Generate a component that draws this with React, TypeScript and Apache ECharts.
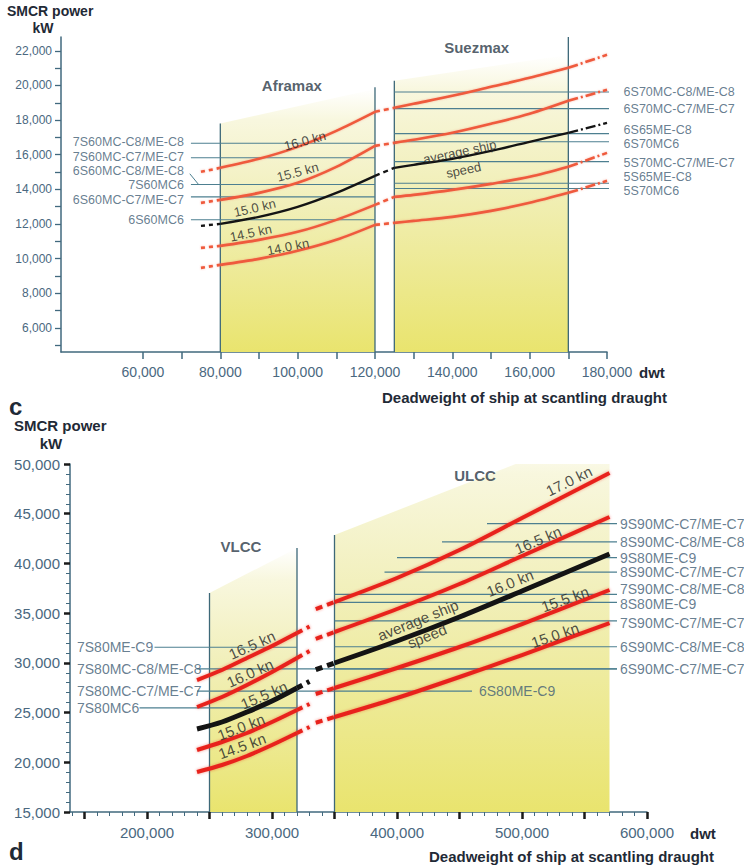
import React, { useEffect, useRef } from 'react';
import * as echarts from 'echarts';

const FONT = '"Liberation Sans", Arial, Helvetica, sans-serif';

// ================= Panel c : Aframax / Suezmax =================
const C_X_TICKS = [60000, 70000, 80000, 90000, 100000, 110000, 120000, 130000, 140000, 150000, 160000, 170000, 180000];
const C_X_LABELS = [60000, 80000, 100000, 120000, 140000, 160000, 180000];
const C_Y_TICKS = [5000, 6000, 7000, 8000, 9000, 10000, 11000, 12000, 13000, 14000, 15000, 16000, 17000, 18000, 19000, 20000, 21000, 22000];
const C_Y_LABELS = [6000, 8000, 10000, 12000, 14000, 16000, 18000, 20000, 22000];

const C_AFRAMAX_DWT = [75000, 80000, 90000, 100000, 110000, 120000];
const C_SUEZMAX_DWT = [125000, 130000, 140000, 150000, 160000, 170000, 180000];

const C_AFRA_160 = [15009, 15240, 15760, 16453, 17378, 18476];
const C_AFRA_155 = [13218, 13391, 13795, 14373, 15298, 16511];
const C_AFRA_150 = [11889, 12004, 12409, 12987, 13795, 14778];
const C_AFRA_145 = [10617, 10733, 11080, 11542, 12235, 13102];
const C_AFRA_140 = [9462, 9635, 9982, 10444, 11080, 11946];

const C_SUEZ_160 = [18707, 18938, 19400, 19920, 20440, 21018, 21769];
const C_SUEZ_155 = [16684, 16858, 17262, 17782, 18360, 19111, 19747];
const C_SUEZ_AVG = [15240, 15413, 15760, 16222, 16742, 17262, 17840];
const C_SUEZ_145 = [13564, 13680, 13969, 14315, 14720, 15298, 16106];
const C_SUEZ_140 = [12062, 12177, 12409, 12755, 13218, 13795, 14489];

const C_LEFT_ENGINES = ['7S60MC-C8/ME-C8', '7S60MC-C7/ME-C7', '7S60MC6', '6S60MC-C7/ME-C7', '6S60MC6'];
const C_LEFT_POWER = [16660, 15820, 14280, 13560, 12240];
const C_LEADER_ENGINE = '6S60MC-C8/ME-C8';
const C_RIGHT_ENGINES = ['6S70MC-C8/ME-C8', '6S70MC-C7/ME-C7', '6S65ME-C8', '6S70MC6', '5S70MC-C7/ME-C7', '5S65ME-C8', '5S70MC6'];
const C_RIGHT_POWER = [19620, 18660, 17220, 16750, 15600, 14350, 14050];

// ================= Panel d : VLCC / ULCC =================
const D_X_MAJOR = [150000, 200000, 250000, 300000, 350000, 400000, 450000, 500000, 550000, 600000];
const D_X_MINOR = [140000, 160000, 170000, 180000, 190000, 210000, 220000, 230000, 240000, 260000, 270000, 280000, 290000, 310000, 320000, 330000, 340000, 360000, 370000, 380000, 390000, 410000, 420000, 430000, 440000, 460000, 470000, 480000, 490000, 510000, 520000, 530000, 540000, 560000, 570000, 580000, 590000];
const D_X_LABELS = [200000, 300000, 400000, 500000, 600000];

const D_VLCC_DWT = [240000, 260000, 280000, 300000, 320000];
const D_ULCC_DWT = [350000, 400000, 450000, 500000, 570000];

const D_VLCC_165 = [28275, 29281, 30488, 31695, 33002];
const D_VLCC_160 = [25560, 26566, 27772, 29080, 30488];
const D_VLCC_AVG = [23347, 24051, 25057, 26163, 27471];
const D_VLCC_150 = [21235, 22040, 22945, 24051, 25258];
const D_VLCC_145 = [19023, 19727, 20632, 21738, 22945];

const D_ULCC_170 = [36120, 38533, 41349, 44568, 49093];
const D_ULCC_165 = [33103, 35416, 37930, 40746, 44668];
const D_ULCC_AVG = [29985, 32197, 34611, 37226, 40947];
const D_ULCC_155 = [27471, 29482, 31594, 33907, 37327];
const D_ULCC_150 = [24554, 26465, 28577, 30789, 34008];

const D_VLCC_EXT_DWT = 330000;
const D_VLCC_EXT = [33660, 31190, 28130, 25860, 23550];
const D_ULCC_LEAD_DWT = 335000;
const D_ULCC_LEAD = [35400, 32410, 29320, 26870, 23980];

const D_LEFT_ENGINES = ['7S80ME-C9', '7S80MC-C8/ME-C8', '7S80MC-C7/ME-C7', '7S80MC6'];
const D_LEFT_POWER = [31570, 29400, 27160, 25480];
const D_LEFT_START = [206000, 240000, 240000, 194000];
const D_LEFT_END = [320000, 576000, 460000, 320000];
const D_RIGHT_ENGINES = ['9S90MC-C7/ME-C7', '8S90MC-C8/ME-C8', '9S80ME-C9', '8S90MC-C7/ME-C7', '7S90MC-C8/ME-C8', '8S80ME-C9', '7S90MC-C7/ME-C7', '6S90MC-C8/ME-C8', '6S90MC-C7/ME-C7'];
const D_RIGHT_POWER = [44010, 42160, 40590, 39120, 36890, 36080, 34230, 31620, 29400];
const D_RIGHT_START = [472000, 436000, 400000, 390000, 350000, 350000, 350000, 350000, 350000];
const D_INNER_ENGINE = '6S80ME-C9';

// colours
const RED_C = '#ef5a3c';
const RED_D = '#e8231d';
const BLACK = '#141414';
const ENGINE_LINE = '#4d7f90';
const BOUND = '#3d6878';
const AXIS = '#41697e';
const TICK_TEXT = '#4a6880';
const ENGINE_TEXT = '#3f5d74';
const TITLE = '#1f2a36';
const SPEED_TEXT = '#242424';

const fmt = (v: number) => Number(v).toLocaleString('en-US');
const zip = (xs: number[], ys: number[]) => xs.map((x, i) => [x, ys[i]]);

// small vertical nudges so that tightly packed engine labels do not collide
const LABEL_OFFSETS: Record<string, number[]> = {
  '7S60MC-C8/ME-C8': [0, -1],
  '7S60MC-C7/ME-C7': [0, -1],
  '6S60MC-C8/ME-C8': [0, -1],
  '7S60MC6': [0, 1],
  '6S60MC-C7/ME-C7': [0, 3],
  '6S65ME-C8': [0, -4],
  '6S70MC6': [0, 2],
  '5S70MC-C7/ME-C7': [0, 1],
  '5S70MC6': [0, 3],
  '7S90MC-C8/ME-C8': [0, -5],
  '8S80ME-C9': [0, 2],
  '7S90MC-C7/ME-C7': [0, 2],
};

function buildOption() {
  const series: any[] = [];
  const axes = (g: number) => ({ xAxisIndex: g === 0 ? 0 : 1, yAxisIndex: g });
  const line = (g: number, data: number[][], color: string, width: number, type: any = 'solid', z = 5, smooth: any = 0.3, extra: any = {}) =>
    series.push({
      type: 'line', ...axes(g), data, symbol: 'none', showSymbol: false, smooth, clip: false, silent: true, z,
      lineStyle: { color, width, type, cap: 'butt', join: 'round', ...extra },
    });
  const gradient = () =>
    new echarts.graphic.LinearGradient(0, 0, 0, 1, [
      { offset: 0, color: '#ffffff' },
      { offset: 0.12, color: '#f8f7de' },
      { offset: 0.45, color: '#f1efb8' },
      { offset: 1, color: '#e9e46e' },
    ]);
  const bands = (g: number, list: number[][], base: number) =>
    series.push({
      type: 'custom', ...axes(g), clip: true, silent: true, z: 1,
      data: list.map((b) => [b[0], b[1], b[2], b[3], base]),
      encode: { x: [0, 1], y: [2, 3, 4] },
      renderItem: (_p: any, api: any) => {
        const x0 = api.value(0), x1 = api.value(1), t0 = api.value(2), t1 = api.value(3), b = api.value(4);
        const pts = [api.coord([x0, b]), api.coord([x0, t0]), api.coord([x1, t1]), api.coord([x1, b])];
        return { type: 'polygon', shape: { points: pts }, style: { fill: gradient(), stroke: 'none' } };
      },
    });
  const texts = (g: number, items: any[]) =>
    series.push({
      type: 'scatter', ...axes(g), symbolSize: 0, clip: false, silent: true, z: 20,
      itemStyle: { color: 'rgba(0,0,0,0)' },
      label: { show: true, formatter: '{b}', fontFamily: FONT },
      data: items.map((it) => ({ name: it.text, value: it.at, label: { show: true, formatter: '{b}', fontFamily: FONT, ...it.label } })),
    });

  // ---------- panel c ----------
  bands(0, [[80000, 120000, 17800, 19800], [125000, 170000, 20270, 21770]], 4600);
  [[80000, 17800], [120000, 19900], [125000, 20270], [170000, 22800]].forEach(([x, t]) =>
    line(0, [[x, 4600], [x, t]], BOUND, 1.3, 'solid', 2, false));

  C_LEFT_ENGINES.forEach((_n, i) => line(0, [[72400, C_LEFT_POWER[i]], [120000, C_LEFT_POWER[i]]], ENGINE_LINE, 1.1, 'solid', 3, false));
  line(0, [[72100, 14900], [74300, 14300]], ENGINE_LINE, 1, 'solid', 3, false);
  C_RIGHT_ENGINES.forEach((n, i) => {
    const p = C_RIGHT_POWER[i];
    if (n === '5S65ME-C8') line(0, [[125000, p], [180700, p], [183000, 14720]], ENGINE_LINE, 1.1, 'solid', 3, false);
    else line(0, [[125000, p], [183000, p]], ENGINE_LINE, 1.1, 'solid', 3, false);
  });

  const cGlow = { shadowColor: 'rgba(240,110,90,0.45)', shadowBlur: 2 };
  const cCurves: [number[], number[], string, number][] = [
    [C_AFRA_160, C_SUEZ_160, RED_C, 2.6],
    [C_AFRA_155, C_SUEZ_155, RED_C, 2.6],
    [C_AFRA_150, C_SUEZ_AVG, BLACK, 2.4],
    [C_AFRA_145, C_SUEZ_145, RED_C, 2.6],
    [C_AFRA_140, C_SUEZ_140, RED_C, 2.6],
  ];
  cCurves.forEach(([a, s, col, w]) => {
    const ap = zip(C_AFRAMAX_DWT, a);
    const sp = zip(C_SUEZMAX_DWT, s);
    const ex = col === RED_C ? cGlow : {};
    line(0, ap.slice(0, 2), col, w, [4, 4], 5, false, ex);
    line(0, ap.slice(1), col, w, 'solid', 5, 0.3, ex);
    line(0, [ap[ap.length - 1], sp[0]], col, w, [5, 4], 5, false, ex);
    line(0, sp.slice(0, 6), col, w, 'solid', 5, 0.3, ex);
    line(0, sp.slice(5), col, w, [10, 3, 2, 3], 5, false, ex);
  });

  const cEng = { fontSize: 12.5, color: ENGINE_TEXT };
  texts(0, [
    ...C_LEFT_ENGINES.map((n, i) => ({ text: n, at: [72400, C_LEFT_POWER[i]], label: { ...cEng, position: 'left', distance: 7, offset: LABEL_OFFSETS[n] || [0, 0] } })),
    { text: C_LEADER_ENGINE, at: [72400, 15009], label: { ...cEng, position: 'left', distance: 7, offset: LABEL_OFFSETS[C_LEADER_ENGINE] } },
    ...C_RIGHT_ENGINES.map((n, i) => {
      const y = n === '5S65ME-C8' ? 14720 : C_RIGHT_POWER[i];
      return { text: n, at: [183000, y], label: { ...cEng, position: 'right', distance: 5, offset: LABEL_OFFSETS[n] || [0, 0] } };
    }),
  ]);
  const cSpd = { fontSize: 13, color: SPEED_TEXT, position: 'inside' };
  texts(0, [
    { text: '16.0 kn', at: [101900, 16800], label: { ...cSpd, rotate: 15 } },
    { text: '15.5 kn', at: [100000, 15000], label: { ...cSpd, rotate: 15 } },
    { text: '15.0 kn', at: [88900, 12930], label: { ...cSpd, rotate: 13 } },
    { text: '14.5 kn', at: [87900, 11480], label: { ...cSpd, rotate: 12 } },
    { text: '14.0 kn', at: [97500, 10680], label: { ...cSpd, rotate: 11 } },
    { text: 'average ship', at: [141900, 16160], label: { ...cSpd, rotate: 12 } },
    { text: 'speed', at: [142900, 15120], label: { ...cSpd, rotate: 12 } },
    { text: 'Aframax', at: [98500, 19980], label: { fontSize: 15, fontWeight: 'bold', color: '#2a3846', position: 'inside' } },
    { text: 'Suezmax', at: [146300, 22200], label: { fontSize: 15, fontWeight: 'bold', color: '#2a3846', position: 'inside' } },
  ]);

  // ---------- panel d ----------
  bands(1, [[250000, 320000, 37025, 41550], [350000, 570000, 42858, 53700]], 15000);
  [[250000, 37025], [320000, 41550], [350000, 42858]].forEach(([x, t]) =>
    line(1, [[x, 15000], [x, t]], BOUND, 1.3, 'solid', 2, false));

  D_LEFT_ENGINES.forEach((_n, i) => line(1, [[D_LEFT_START[i], D_LEFT_POWER[i]], [D_LEFT_END[i], D_LEFT_POWER[i]]], ENGINE_LINE, 1.2, 'solid', 3, false));
  D_RIGHT_ENGINES.forEach((_n, i) => line(1, [[D_RIGHT_START[i], D_RIGHT_POWER[i]], [576000, D_RIGHT_POWER[i]]], ENGINE_LINE, 1.2, 'solid', 3, false));

  const glow = { shadowColor: 'rgba(235,40,30,0.45)', shadowBlur: 3 };
  const vl: [number[], string, number][] = [
    [D_VLCC_165, RED_D, 4], [D_VLCC_160, RED_D, 4], [D_VLCC_AVG, BLACK, 5], [D_VLCC_150, RED_D, 4], [D_VLCC_145, RED_D, 4],
  ];
  vl.forEach(([v, col, w], i) => {
    const p = zip(D_VLCC_DWT, v);
    line(1, p, col, w, 'solid', 5, 0.3, col === RED_D ? glow : {});
    line(1, [p[p.length - 1], [D_VLCC_EXT_DWT, D_VLCC_EXT[i]]], col, w, [6, 5], 5, false, col === RED_D ? glow : {});
  });
  const ul: [number[], string, number][] = [
    [D_ULCC_170, RED_D, 4], [D_ULCC_165, RED_D, 4], [D_ULCC_AVG, BLACK, 5], [D_ULCC_155, RED_D, 4], [D_ULCC_150, RED_D, 4],
  ];
  ul.forEach(([v, col, w], i) => {
    const p = zip(D_ULCC_DWT, v);
    line(1, p, col, w, 'solid', 5, 0.3, col === RED_D ? glow : {});
    line(1, [[D_ULCC_LEAD_DWT, D_ULCC_LEAD[i]], p[0]], col, w, [7, 5], 5, false, col === RED_D ? glow : {});
  });

  const dEng = { fontSize: 14, color: ENGINE_TEXT };
  texts(1, [
    ...D_LEFT_ENGINES.map((n, i) => ({ text: n, at: [144000, D_LEFT_POWER[i]], label: { ...dEng, position: 'right', distance: 0 } })),
    ...D_RIGHT_ENGINES.map((n, i) => ({
      text: n, at: [576000, D_RIGHT_POWER[i]],
      label: { ...dEng, position: 'right', distance: 3, offset: LABEL_OFFSETS[n] || [0, 0] },
    })),
    { text: D_INNER_ENGINE, at: [460000, 27160], label: { ...dEng, position: 'right', distance: 7 } },
  ]);
  const dSpd = { fontSize: 15, color: SPEED_TEXT, position: 'inside' };
  texts(1, [
    { text: '16.5 kn', at: [284000, 31800], label: { ...dSpd, rotate: 24 } },
    { text: '16.0 kn', at: [282400, 28980], label: { ...dSpd, rotate: 24 } },
    { text: '15.5 kn', at: [293600, 26770], label: { ...dSpd, rotate: 23 } },
    { text: '15.0 kn', at: [275200, 23550], label: { ...dSpd, rotate: 21 } },
    { text: '14.5 kn', at: [276000, 21640], label: { ...dSpd, rotate: 20 } },
    { text: '17.0 kn', at: [537600, 48290], label: { ...dSpd, rotate: 26 } },
    { text: '16.5 kn', at: [512800, 42360], label: { ...dSpd, rotate: 23 } },
    { text: '16.0 kn', at: [490400, 38030], label: { ...dSpd, rotate: 22 } },
    { text: '15.5 kn', at: [534400, 36420], label: { ...dSpd, rotate: 20 } },
    { text: '15.0 kn', at: [526400, 32800], label: { ...dSpd, rotate: 19 } },
    { text: 'average ship', at: [416800, 34310], label: { ...dSpd, rotate: 22 } },
    { text: 'speed', at: [424000, 32700], label: { ...dSpd, rotate: 22 } },
    { text: 'VLCC', at: [275200, 41750], label: { fontSize: 15, fontWeight: 'bold', color: '#2a3846', position: 'inside' } },
    { text: 'ULCC', at: [462400, 48890], label: { fontSize: 15, fontWeight: 'bold', color: '#2a3846', position: 'inside' } },
  ]);

  const t = (text: string, x: number, y: number, size: number, align = 'left', weight = 'bold', fill = TITLE) => ({
    type: 'text', x, y, silent: true,
    style: { text, fontSize: size, fontWeight: weight, fontFamily: FONT, fill, align, verticalAlign: 'middle' },
  });

  return {
    animation: false,
    backgroundColor: '#ffffff',
    grid: [
      { left: 61, top: 37, width: 546, height: 315 },
      { left: 70, top: 464, width: 577, height: 348 },
    ],
    xAxis: [
      {
        gridIndex: 0, type: 'value', min: 38800, max: 180000,
        axisLine: { show: true, onZero: false, lineStyle: { color: AXIS, width: 1.5 } },
        axisTick: { show: true, customValues: C_X_TICKS, length: 7, lineStyle: { color: AXIS, width: 1.5 } },
        axisLabel: { customValues: C_X_LABELS, formatter: fmt, fontSize: 14, color: TICK_TEXT, margin: 13, fontFamily: FONT },
        splitLine: { show: false },
      },
      {
        gridIndex: 1, type: 'value', min: 138400, max: 600000, position: 'bottom',
        axisLine: { show: true, onZero: false, lineStyle: { color: AXIS, width: 1.5 } },
        axisTick: { show: true, customValues: D_X_MAJOR, length: 7, lineStyle: { color: '#1a1a1a', width: 2.5 } },
        axisLabel: { customValues: D_X_LABELS, formatter: fmt, fontSize: 15, color: TICK_TEXT, margin: 13, fontFamily: FONT },
        splitLine: { show: false },
      },
      {
        gridIndex: 1, type: 'value', min: 138400, max: 600000, position: 'bottom',
        axisLine: { show: false },
        axisTick: { show: true, customValues: D_X_MINOR, length: 4, lineStyle: { color: AXIS, width: 1 } },
        axisLabel: { show: false },
        splitLine: { show: false },
      },
    ],
    yAxis: [
      {
        gridIndex: 0, type: 'value', min: 4600, max: 22800,
        axisLine: { show: true, onZero: false, lineStyle: { color: AXIS, width: 1.5 } },
        axisTick: { show: true, customValues: C_Y_TICKS, length: 6, lineStyle: { color: AXIS, width: 1.3 } },
        axisLabel: { customValues: C_Y_LABELS, formatter: fmt, fontSize: 12, color: TICK_TEXT, margin: 9, fontFamily: FONT },
        splitLine: { show: false },
      },
      {
        gridIndex: 1, type: 'value', min: 15000, max: 50000, interval: 5000,
        axisLine: { show: true, onZero: false, lineStyle: { color: AXIS, width: 1.5 } },
        axisTick: { show: true, length: 6, lineStyle: { color: '#1a1a1a', width: 2.5 } },
        minorTick: { show: true, splitNumber: 5, length: 4, lineStyle: { color: AXIS, width: 1 } },
        axisLabel: { formatter: fmt, fontSize: 15, color: TICK_TEXT, margin: 10, fontFamily: FONT },
        splitLine: { show: false },
        minorSplitLine: { show: false },
      },
    ],
    graphic: [
      t('SMCR power', 7, 11, 14),
      t('kW', 43, 28, 14, 'center'),
      t('dwt', 639, 372, 15),
      t('Deadweight of ship at scantling draught', 667, 397, 15, 'right'),
      t('c', 9, 406, 24),
      t('SMCR power', 14, 425, 15),
      t('kW', 51, 443, 15, 'center'),
      t('dwt', 690, 833, 15),
      t('Deadweight of ship at scantling draught', 714, 856, 15, 'right'),
      t('d', 9, 851, 24),
    ],
    series,
  };
}

export default function App() {
  const ref = useRef<HTMLDivElement>(null);
  useEffect(() => {
    const chart = echarts.init(ref.current as HTMLDivElement, undefined, { renderer: 'svg' });
    chart.setOption(buildOption() as any);
    return () => chart.dispose();
  }, []);
  return <div ref={ref} style={{ position: 'fixed', left: 0, top: 0, width: 744, height: 868, background: '#fff' }} />;
}
